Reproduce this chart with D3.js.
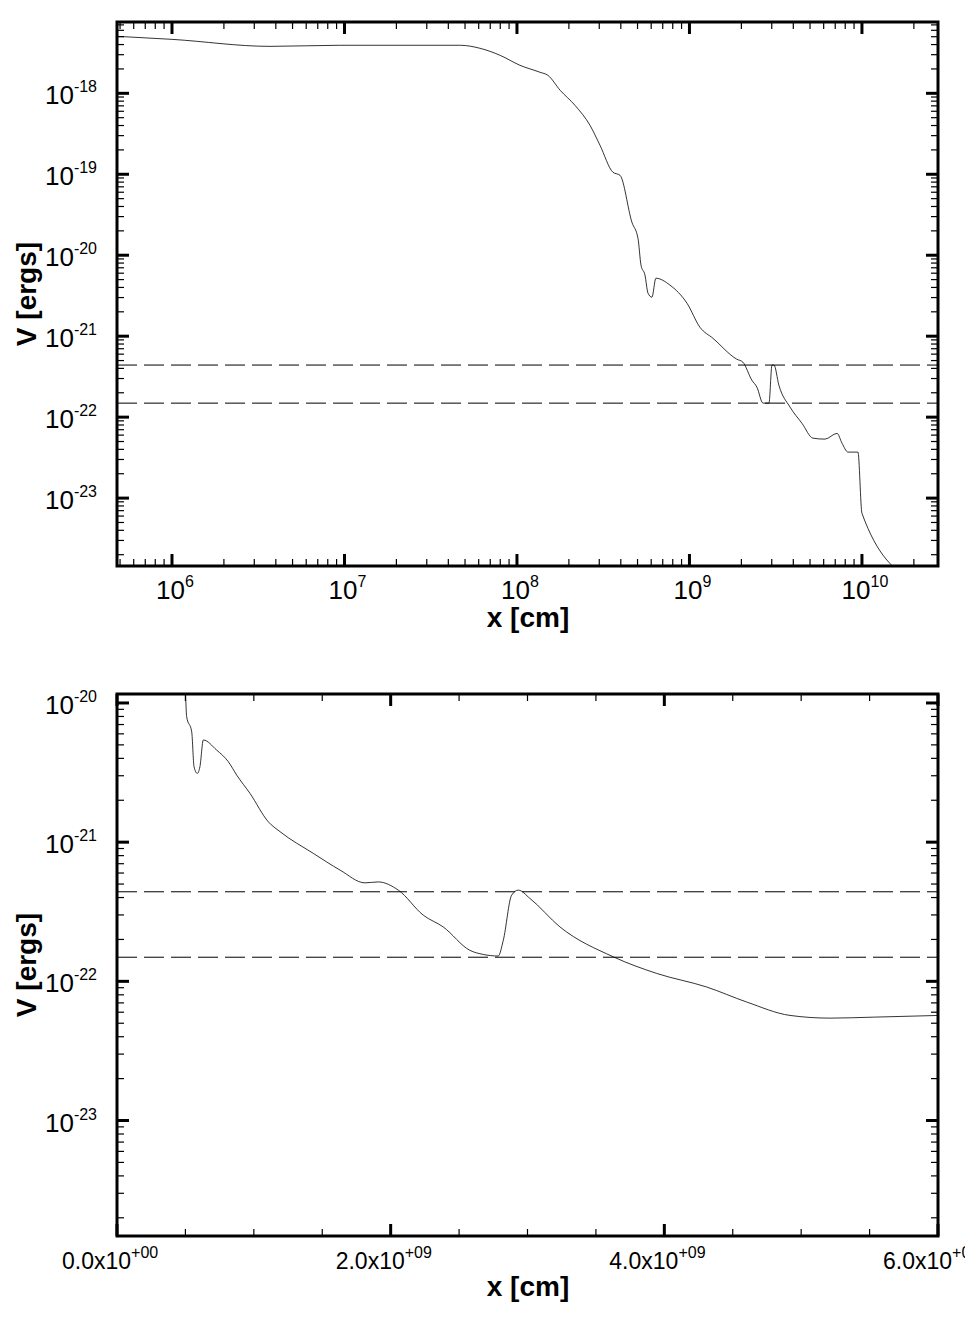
<!DOCTYPE html>
<html><head><meta charset="utf-8">
<script src="https://cdn.jsdelivr.net/npm/d3@7"></script>
<style>body{margin:0;background:#fff}svg{display:block}text{font-family:"Liberation Sans",Arial,sans-serif}</style>
</head><body><svg id="c" width="965" height="1331"></svg>
<script>
// Top panel: log-log
const topX = [4.8e5,1.0e6,3.7e6,9.4e6,4.7e7,6.1e7,8.0e7,1.04e8,1.36e8,1.51e8,1.78e8,2.17e8,2.65e8,3.03e8,3.60e8,3.96e8,4.64e8,5.03e8,5.24e8,5.52e8,5.75e8,6.06e8,6.39e8,7.71e8,9.68e8,1.15e9,1.37e9,1.88e9,2.04e9,2.30e9,2.46e9,2.67e9,2.89e9,3.01e9,3.09e9,3.30e9,3.83e9,4.49e9,5.20e9,6.10e9,7.17e9,7.66e9,8.30e9,9.48e9,1.0e10,1.90e10];
const topV = [5.06e-18,4.64e-18,3.8e-18,3.92e-18,3.92e-18,3.6e-18,2.94e-18,2.22e-18,1.82e-18,1.67e-18,1.09e-18,7.1e-19,4.03e-19,2.28e-19,1.06e-19,9.7e-20,2.55e-20,1.62e-20,7.5e-21,5.7e-21,3.4e-21,3.03e-21,5.2e-21,4.27e-21,2.55e-21,1.29e-21,9.4e-22,5.2e-22,4.78e-22,2.86e-22,2.35e-22,1.49e-22,1.49e-22,4.4e-22,4.4e-22,2.48e-22,1.33e-22,8.4e-23,5.5e-23,5.35e-23,6.3e-23,4.78e-23,3.7e-23,3.7e-23,6.5e-24,9.8e-25];
// Bottom panel: linear x, log y
const botX = [0.500e9,0.509e9,0.546e9,0.563e9,0.587e9,0.606e9,0.631e9,0.728e9,0.814e9,0.875e9,0.972e9,1.106e9,1.191e9,1.435e9,1.630e9,1.812e9,1.910e9,2.056e9,2.238e9,2.384e9,2.579e9,2.677e9,2.786e9,2.823e9,2.884e9,2.933e9,3.018e9,3.237e9,3.627e9,3.944e9,4.310e9,4.602e9,4.918e9,5.211e9,5.527e9,6.01e9];
const botV = [1.3e-20,7.97e-21,6.2e-21,3.48e-21,3.12e-21,3.48e-21,5.42e-21,4.59e-21,3.78e-21,3.03e-21,2.24e-21,1.40e-21,1.19e-21,8.3e-22,6.3e-22,5.1e-22,5.18e-22,4.52e-22,2.99e-22,2.46e-22,1.67e-22,1.56e-22,1.52e-22,1.97e-22,4.16e-22,4.52e-22,3.94e-22,2.46e-22,1.50e-22,1.14e-22,9.1e-23,7.1e-23,5.69e-23,5.44e-23,5.53e-23,5.69e-23];
const dashLevels = [4.4e-22, 1.49e-22];
const topXTicks = [6,7,8,9,10];
const yTicksTop = [-18,-19,-20,-21,-22,-23];
const yTicksBot = [-20,-21,-22,-23];
const botXTicks = [0,2e9,4e9,6e9];
const botXLabels = [["0.0x10","+00"],["2.0x10","+09"],["4.0x10","+09"],["6.0x10","+09"]];

const svg = d3.select("#c");
const L=117,R=938;

function logMinors(lo,hi){const a=[];for(let e=Math.floor(Math.log10(lo));e<=Math.ceil(Math.log10(hi));e++)for(let m=1;m<10;m++){const v=m*Math.pow(10,e);if(v>=lo&&v<=hi)a.push({v,major:m===1});}return a;}

function yAxisLog(g,y,dom,T,B,labels){
  logMinors(dom[0],dom[1]).forEach(t=>{
    const yy=y(t.v),len=t.major?12:7,w=t.major?3:1.2;
    g.append("line").attr("x1",L).attr("x2",L+len).attr("y1",yy).attr("y2",yy).attr("stroke","#000").attr("stroke-width",w);
    g.append("line").attr("x1",R).attr("x2",R-len).attr("y1",yy).attr("y2",yy).attr("stroke","#000").attr("stroke-width",w);
  });
  labels.forEach(e=>{
    const t=g.append("text").attr("x",97).attr("y",y(Math.pow(10,e))+11).attr("text-anchor","end").attr("font-size",26);
    t.append("tspan").text("10");
    t.append("tspan").attr("dy",-12).attr("font-size",16).text(String(e));
  });
}
function frame(g,T,B){g.append("rect").attr("x",L).attr("y",T).attr("width",R-L).attr("height",B-T).attr("fill","none").attr("stroke","#000").attr("stroke-width",3);}
function labelsXY(g,T,B,xl){
  g.append("text").attr("transform",`translate(36,${(T+B)/2}) rotate(-90)`).attr("text-anchor","middle").attr("font-size",28).attr("font-weight","bold").text("V [ergs]");
  g.append("text").attr("x",528).attr("y",xl).attr("text-anchor","middle").attr("font-size",28).attr("font-weight","bold").text("x [cm]");
}

// ---- top panel
{
const T=22,B=566;
const xd=[4.8e5,2.76e10], yd=[1.45e-24,7.6e-18];
const x=d3.scaleLog().domain(xd).range([L,R]);
const y=d3.scaleLog().domain(yd).range([B,T]);
const g=svg.append("g");
g.append("clipPath").attr("id","ct").append("rect").attr("x",L).attr("y",T).attr("width",R-L).attr("height",B-T);
dashLevels.forEach(v=>g.append("line").attr("x1",L).attr("x2",R).attr("y1",y(v)).attr("y2",y(v)).attr("stroke","#000").attr("stroke-width",1).attr("stroke-dasharray","20,7"));
g.append("path").attr("clip-path","url(#ct)").datum(topX.map((d,i)=>[d,topV[i]])).attr("fill","none").attr("stroke","#000").attr("stroke-width",0.8).attr("d",d3.line().curve(d3.curveMonotoneX).x(d=>x(d[0])).y(d=>y(d[1])));
logMinors(xd[0],xd[1]).forEach(t=>{
  const xx=x(t.v),len=t.major?12:7,w=t.major?3:1.2;
  g.append("line").attr("x1",xx).attr("x2",xx).attr("y1",B).attr("y2",B-len).attr("stroke","#000").attr("stroke-width",w);
  g.append("line").attr("x1",xx).attr("x2",xx).attr("y1",T).attr("y2",T+len).attr("stroke","#000").attr("stroke-width",w);
});
topXTicks.forEach(e=>{
  const t=g.append("text").attr("x",x(Math.pow(10,e))+3).attr("y",B+33).attr("text-anchor","middle").attr("font-size",26);
  t.append("tspan").text("10");
  t.append("tspan").attr("dy",-12).attr("font-size",16).text(String(e));
});
yAxisLog(g,y,yd,T,B,yTicksTop);
frame(g,T,B);
labelsXY(g,T,B,627);
}
// ---- bottom panel
{
const T=694,B=1236;
const xd=[0,6e9], yd=[1.48e-24,1.16e-20];
const x=d3.scaleLinear().domain(xd).range([L,R]);
const y=d3.scaleLog().domain(yd).range([B,T]);
const g=svg.append("g");
g.append("clipPath").attr("id","cb").append("rect").attr("x",L).attr("y",T).attr("width",R-L).attr("height",B-T);
dashLevels.forEach(v=>g.append("line").attr("x1",L).attr("x2",R).attr("y1",y(v)).attr("y2",y(v)).attr("stroke","#000").attr("stroke-width",1).attr("stroke-dasharray","20,7"));
g.append("path").attr("clip-path","url(#cb)").datum(botX.map((d,i)=>[d,botV[i]])).attr("fill","none").attr("stroke","#000").attr("stroke-width",0.8).attr("d",d3.line().curve(d3.curveMonotoneX).x(d=>x(d[0])).y(d=>y(d[1])));
d3.range(0,6e9+1,0.5e9).forEach(v=>{
  const major=Math.abs(v/2e9-Math.round(v/2e9))<1e-6, xx=x(v),len=major?12:7,w=major?3:1.2;
  g.append("line").attr("x1",xx).attr("x2",xx).attr("y1",B).attr("y2",B-len).attr("stroke","#000").attr("stroke-width",w);
  g.append("line").attr("x1",xx).attr("x2",xx).attr("y1",T).attr("y2",T+len).attr("stroke","#000").attr("stroke-width",w);
});
botXTicks.forEach((v,i)=>{
  const t=g.append("text").attr("x",x(v)-55).attr("y",B+33).attr("font-size",23);
  t.append("tspan").text(botXLabels[i][0]);
  t.append("tspan").attr("dy",-11).attr("font-size",16).text(botXLabels[i][1]);
});
yAxisLog(g,y,yd,T,B,yTicksBot);
frame(g,T,B);
labelsXY(g,T,B,1296);
}
</script></body></html>
